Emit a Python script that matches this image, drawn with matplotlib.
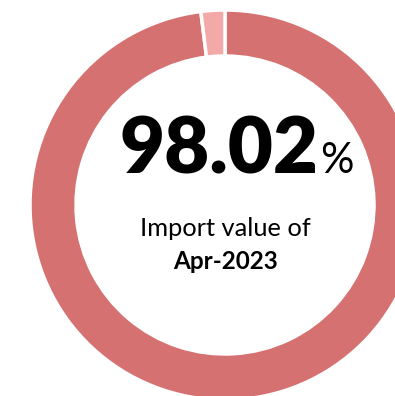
import matplotlib
matplotlib.use("Agg")
import matplotlib.pyplot as plt

# Share of import value
labels = ["Share", "Remainder"]
values = [98.02, 1.98]
colors = ["#D57170", "#F3A9A8"]
headline = "98.02"
caption = "Import value of"
period = "Apr-2023"

W, H = 395, 396
fig = plt.figure(figsize=(W / 100, H / 100), dpi=100)
ax = fig.add_axes([0, 0, 1, 1])

cx, cy = 225, H - 205
R = 195
ax.pie(values, colors=colors, startangle=90, counterclock=False,
       center=(cx, cy), radius=R, frame=True,
       wedgeprops=dict(width=R - 149, edgecolor="white", linewidth=2.5))
ax.set_xlim(0, W)
ax.set_ylim(0, H)
ax.set_aspect("equal")
ax.axis("off")

font = "Lato"
ax.text(318, H - 173, headline, ha="right", va="baseline",
        fontsize=56, fontweight="heavy", family=font, color="black")
ax.text(320, H - 173, "%", ha="left", va="baseline",
        fontsize=30, family=font, color="black")
ax.text(225.5, H - 236, caption, ha="center", va="baseline",
        fontsize=18.3, family=font, color="black")
ax.text(225.5, H - 269, period, ha="center", va="baseline",
        fontsize=17.5, fontweight="bold", family=font, color="black")

fig.savefig("out.png", dpi=100)
